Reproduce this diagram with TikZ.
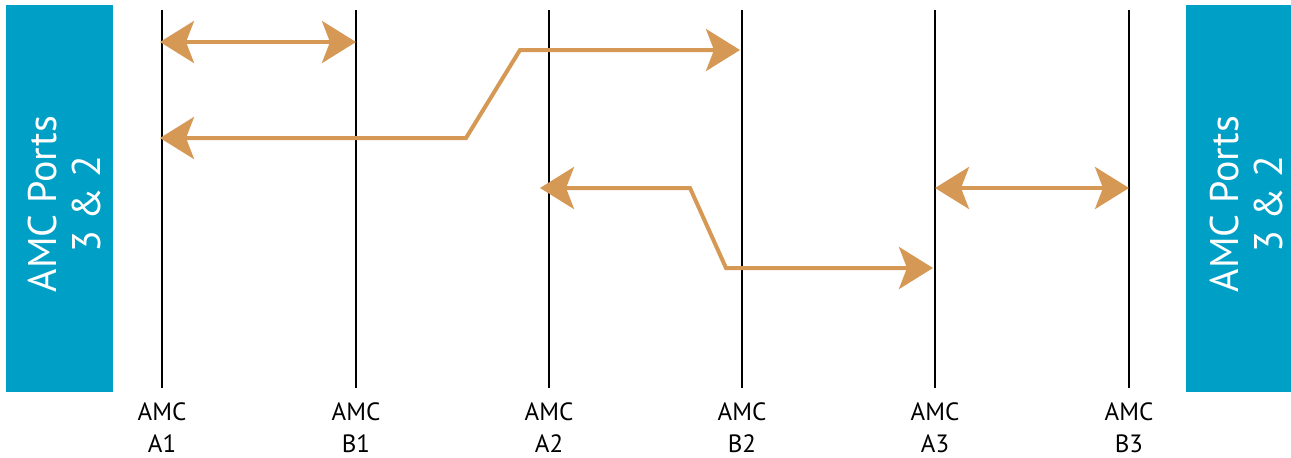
\documentclass[tikz,border=0pt]{standalone}
\usepackage{fontspec}
\setmainfont{PT Sans}
\usetikzlibrary{arrows.meta}
\definecolor{amcblue}{HTML}{00A0C6}
\definecolor{amcorange}{HTML}{D59855}
\begin{document}
\begin{tikzpicture}[x=1pt,y=-1pt,
  bus/.style={line width=2pt,black},
  link/.style={line width=4pt,amcorange,line join=miter},
  tipLR/.style={{Stealth[length=34pt,width=42pt,inset=8pt]}-{Stealth[length=34pt,width=42pt,inset=8pt]}},
  portbox/.style={fill=amcblue,draw=none},
  porttext/.style={rotate=90,align=center,text=white,inner sep=0pt,font=\fontsize{40}{44}\selectfont},
  lbl/.style={anchor=base,inner sep=0pt,font=\fontsize{25}{30}\selectfont}]
\useasboundingbox (0,0) rectangle (1291,458);
% port boxes
\fill[portbox] (6,5) rectangle (113,392);
\fill[portbox] (1186,5) rectangle (1291,392);
\node[porttext] (pl) at (64,204) {AMC Ports\\3 \& 2};
\node[porttext] (pr) at (1246,204) {AMC Ports\\3 \& 2};
% buses
\foreach \n/\x/\a/\b in {a1/162/AMC/A1,b1/356/AMC/B1,a2/549/AMC/A2,b2/742/AMC/B2,a3/935/AMC/A3,b3/1129/AMC/B3}{
  \coordinate (\n t) at (\x,10);
  \coordinate (\n b) at (\x,388);
  \draw[bus] (\n t) -- (\n b);
  \node[lbl] (\n l1) at (\x,420) {\a};
  \node[lbl] (\n l2) at (\x,452) {\b};
}
% link coordinates
\coordinate (p1a) at (160,42);
\coordinate (p1b) at (356,42);
\coordinate (p2a) at (160,138);
\coordinate (p2k1) at (466,138);
\coordinate (p2k2) at (520,50);
\coordinate (p2b) at (740,50);
\coordinate (p3a) at (540,188);
\coordinate (p3k1) at (690,188);
\coordinate (p3k2) at (726,268);
\coordinate (p3b) at (933,268);
\coordinate (p4a) at (935,188);
\coordinate (p4b) at (1129,188);
% links
\draw[link,tipLR] (p1a) -- (p1b);
\draw[link,tipLR] (p2a) -- (p2k1) -- (p2k2) -- (p2b);
\draw[link,tipLR] (p3a) -- (p3k1) -- (p3k2) -- (p3b);
\draw[link,tipLR] (p4a) -- (p4b);
\end{tikzpicture}
\end{document}
